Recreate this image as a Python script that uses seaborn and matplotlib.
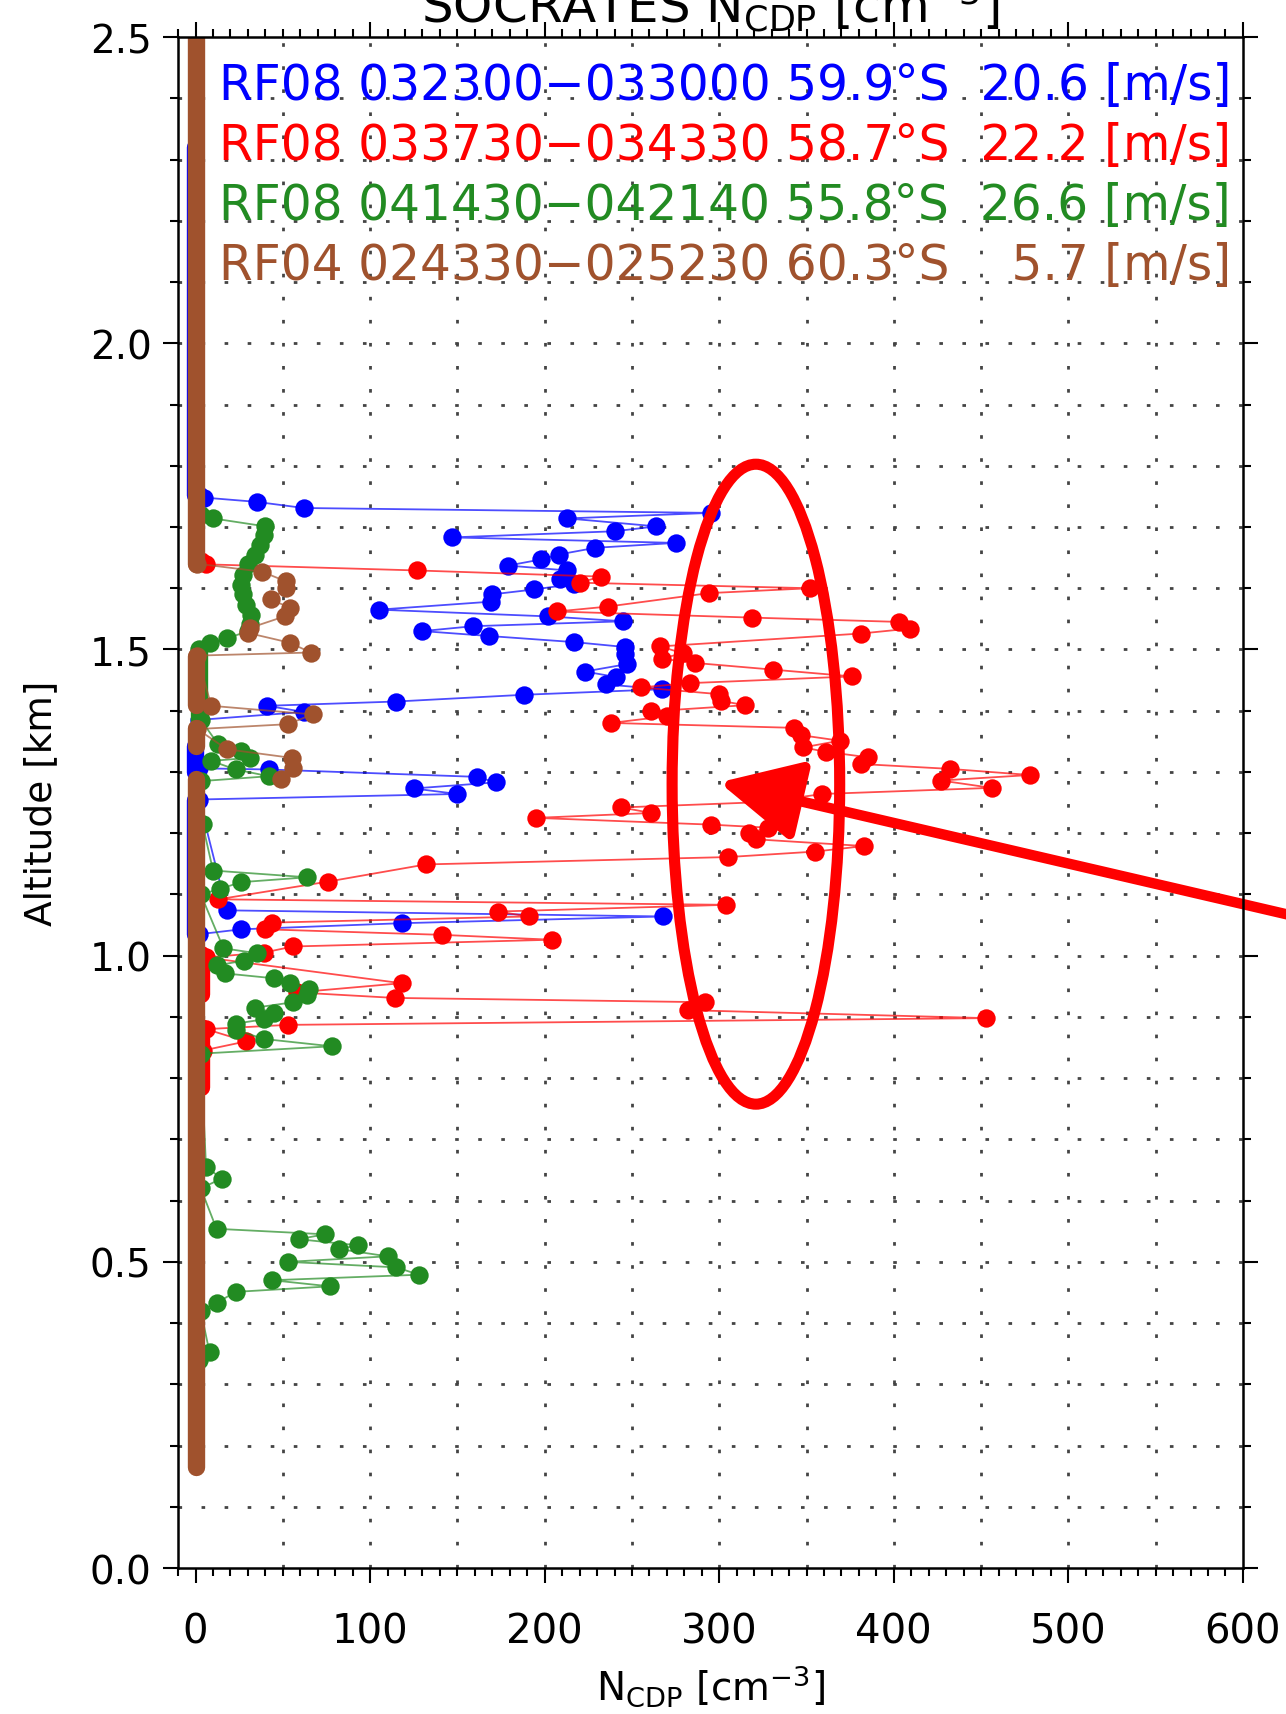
import numpy as np
import matplotlib
matplotlib.use("Agg")
import matplotlib.pyplot as plt
from matplotlib.patches import Ellipse
from matplotlib.ticker import MultipleLocator, FormatStrFormatter
import seaborn as sns

# flight legs, as written in the upper-left key
leg_labels = [
    "RF08 032300\u2212033000 59.9\u00b0S  20.6 [m/s]",
    "RF08 033730\u2212034330 58.7\u00b0S  22.2 [m/s]",
    "RF08 041430\u2212042140 55.8\u00b0S  26.6 [m/s]",
    "RF04 024330\u2212025230 60.3\u00b0S  \u20075.7 [m/s]",
]
leg_colors = ["#0000ff", "#ff0000", "#228b22", "#a0522d"]

# RF08 032300-033000 (blue)
blue_alt = [1.752, 1.748, 1.741, 1.731, 1.723, 1.714, 1.701, 1.693, 1.683, 1.674,
            1.666, 1.655, 1.647, 1.637, 1.629, 1.615, 1.607, 1.598, 1.590, 1.578,
            1.565, 1.554, 1.546, 1.538, 1.530, 1.522, 1.512, 1.504, 1.492, 1.476,
            1.464, 1.455, 1.443, 1.435, 1.426, 1.415, 1.408, 1.398, 1.385, 1.306,
            1.304, 1.292, 1.283, 1.273, 1.264, 1.255, 1.074, 1.064, 1.053, 1.043,
            1.035]
blue_n = [2, 5, 35, 62, 295, 213, 264, 240, 147, 275,
          229, 208, 198, 179, 213, 209, 217, 194, 170, 169,
          105, 202, 245, 159, 130, 168, 217, 246, 246, 247,
          223, 241, 235, 267, 188, 115, 41, 62, 2, 2,
          42, 161, 172, 125, 150, 2, 18, 268, 118, 26,
          2]

# RF08 033730-034330 (red)
red_alt = [1.645, 1.639, 1.629, 1.619, 1.609, 1.600, 1.592, 1.570, 1.562, 1.552,
           1.545, 1.534, 1.526, 1.505, 1.494, 1.485, 1.478, 1.467, 1.456, 1.445,
           1.438, 1.427, 1.416, 1.409, 1.399, 1.391, 1.380, 1.372, 1.360, 1.351,
           1.340, 1.333, 1.324, 1.313, 1.305, 1.295, 1.286, 1.274, 1.264, 1.251,
           1.242, 1.233, 1.225, 1.214, 1.209, 1.200, 1.190, 1.179, 1.170, 1.161,
           1.149, 1.121, 1.092, 1.083, 1.072, 1.064, 1.054, 1.043, 1.034, 1.026,
           1.015, 1.005, 0.997, 0.955, 0.940, 0.931, 0.924, 0.911, 0.898, 0.887,
           0.880, 0.860, 0.845]
red_n = [3, 6, 127, 232, 220, 352, 294, 236, 207, 319,
         403, 409, 381, 266, 279, 267, 286, 331, 376, 283,
         255, 300, 301, 315, 261, 270, 238, 343, 347, 369,
         348, 361, 385, 381, 432, 478, 427, 456, 359, 327,
         244, 261, 195, 295, 328, 317, 321, 383, 355, 305,
         132, 76, 13, 304, 173, 191, 44, 40, 141, 204,
         56, 39, 6, 118, 58, 114, 292, 282, 453, 53,
         6, 29, 4]

# RF08 041430-042140 (green)
green_alt = [1.720, 1.714, 1.701, 1.687, 1.671, 1.655, 1.639, 1.622, 1.606, 1.590,
             1.573, 1.557, 1.541, 1.530, 1.518, 1.511, 1.500, 1.385, 1.345, 1.334,
             1.323, 1.318, 1.304, 1.293, 1.285, 1.215, 1.139, 1.128, 1.120, 1.109,
             1.100, 1.012, 1.004, 0.992, 0.984, 0.971, 0.963, 0.955, 0.946, 0.935,
             0.924, 0.915, 0.907, 0.896, 0.889, 0.879, 0.864, 0.852, 0.840, 0.655,
             0.636, 0.620, 0.554, 0.545, 0.537, 0.527, 0.521, 0.509, 0.500, 0.491,
             0.479, 0.470, 0.460, 0.451, 0.433, 0.420, 0.352, 0.340]
green_n = [3, 10, 40, 39, 37, 34, 30, 27, 26, 27,
           29, 32, 31, 30, 18, 8, 2, 3, 13, 26,
           31, 9, 23, 42, 3, 4, 10, 64, 26, 14,
           3, 16, 35, 28, 12, 17, 45, 54, 65, 64,
           56, 34, 45, 39, 23, 23, 39, 78, 3, 6,
           15, 3, 12, 74, 59, 93, 82, 110, 53, 115,
           128, 44, 77, 23, 12, 3, 8, 2]

# RF04 024330-025230 (brown)
brown_alt = [1.640, 1.627, 1.611, 1.600, 1.582, 1.568, 1.554, 1.535, 1.527, 1.511,
             1.495, 1.490, 1.408, 1.394, 1.378, 1.370, 1.337, 1.323, 1.306, 1.288]
brown_n = [1, 38, 52, 52, 43, 54, 51, 31, 30, 54,
           66, 1, 9, 67, 53, 1, 18, 55, 56, 49]

# stretches where the samples pile up at N ~ 0 (top, bottom altitude, km)
blue_col_top, blue_col_bot = [2.320, 1.342, 1.255], [1.752, 1.300, 1.035]
red_col_top, red_col_bot = [1.003, 0.883], [0.937, 0.785]
green_col_top, green_col_bot = [1.500], [1.385]
brown_col_top, brown_col_bot = [2.520, 1.490, 1.372, 1.288], [1.640, 1.410, 1.342, 0.165]

# hand-drawn highlight on top of the figure
ellipse_xy, ellipse_w, ellipse_h = (321, 1.28), 96, 1.045
arrow_tip, arrow_tail = (300, 1.283), (653, 1.049)

sns.set_style("ticks")
plt.rcParams["font.family"] = ["DejaVu Sans"]
plt.rcParams["mathtext.fontset"] = "dejavusans"
plt.rcParams["text.color"] = "black"
plt.rcParams["axes.labelcolor"] = "black"
plt.rcParams["xtick.color"] = "black"
plt.rcParams["ytick.color"] = "black"

fig = plt.figure(figsize=(12.86, 17.15), dpi=100)
ax = fig.add_axes([0.1385, 0.0851, 0.828, 0.8927])

grid_style = dict(color="#444444", lw=2.0, ls=(0, (1.3, 7)), zorder=0)
for gx in range(50, 600, 50):
    ax.axvline(gx, **grid_style)
for gy in np.arange(0.1, 2.45, 0.1):
    ax.axhline(gy, **grid_style)

series = [
    (blue_n, blue_alt, -0.6, blue_col_top, blue_col_bot, leg_colors[0]),
    (red_n, red_alt, 3.0, red_col_top, red_col_bot, leg_colors[1]),
    (green_n, green_alt, 2.0, green_col_top, green_col_bot, leg_colors[2]),
    (brown_n, brown_alt, 0.5, brown_col_top, brown_col_bot, leg_colors[3]),
]
for i, (n, alt, cx, ctop, cbot, c) in enumerate(series):
    z = 2 + i
    ax.vlines([cx] * len(ctop), cbot, ctop, colors=c, lw=12.5,
              capstyle="round", zorder=z)
    sns.lineplot(x=n, y=alt, sort=False, estimator=None, color=c, lw=1.3,
                 alpha=0.7, ax=ax, zorder=z)
    sns.scatterplot(x=n, y=alt, color=c, s=175, linewidth=0, ax=ax, zorder=z + 0.5)

ax.add_patch(Ellipse(ellipse_xy, ellipse_w, ellipse_h, fill=False,
                     ec="#ff0000", lw=8, zorder=10))
ax.annotate("", xy=arrow_tip, xytext=arrow_tail, annotation_clip=False,
            arrowprops=dict(arrowstyle="-|>,head_length=1.1,head_width=0.55",
                            mutation_scale=45, color="#ff0000", lw=7.5,
                            shrinkA=0, shrinkB=0), zorder=10)

for k, (lab, c) in enumerate(zip(leg_labels, leg_colors)):
    ax.text(0.038, 0.969 - 0.0393 * k, lab, transform=ax.transAxes, color=c,
            fontsize=35, ha="left", va="center", zorder=11)

ax.set_xlim(-10, 600)
ax.set_ylim(0, 2.5)
ax.xaxis.set_major_locator(MultipleLocator(100))
ax.xaxis.set_minor_locator(MultipleLocator(10))
ax.yaxis.set_major_locator(MultipleLocator(0.5))
ax.yaxis.set_minor_locator(MultipleLocator(0.1))
ax.yaxis.set_major_formatter(FormatStrFormatter("%.1f"))
ax.tick_params(which="both", direction="out", top=True, right=True,
               width=1.5, color="black", labelcolor="black")
ax.tick_params(which="major", length=11)
ax.tick_params(which="minor", length=6)
ax.tick_params(axis="x", labelsize=29, pad=20)
ax.tick_params(axis="y", labelsize=28, pad=8)
for s in ax.spines.values():
    s.set_linewidth(1.8)
    s.set_color("black")
    s.set_zorder(12)

ax.set_xlabel(r"N$_{\rm CDP}$ [cm$^{-3}$]", fontsize=28, labelpad=8)
ax.set_ylabel("Altitude [km]", fontsize=27, labelpad=22)
fig.text(0.552, 1 - 23 / 1715, r"SOCRATES N$_{\rm CDP}$ [cm$^{-3}$]",
         ha="center", va="baseline", fontsize=36)

fig.savefig("out.png", dpi=100)
